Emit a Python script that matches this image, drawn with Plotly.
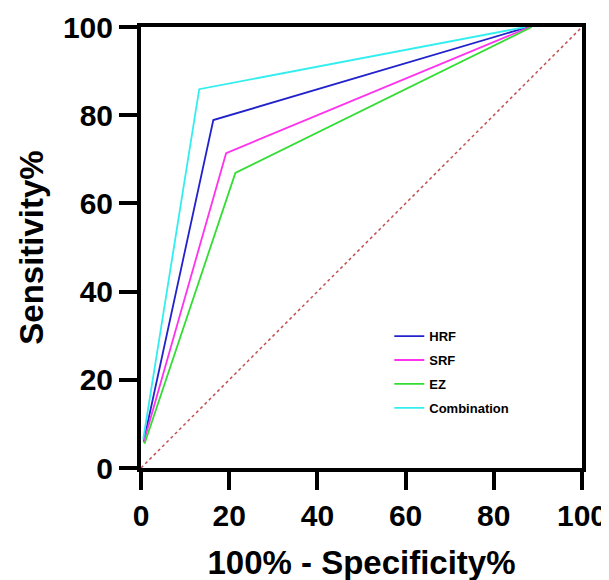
import plotly.graph_objects as go

# Data
series_names = ["HRF", "SRF", "EZ", "Combination"]
hrf_x = [0.6, 16.4, 87.8]
hrf_y = [6.0, 78.9, 100.0]
srf_x = [0.6, 19.3, 88.2]
srf_y = [5.8, 71.4, 100.0]
ez_x = [0.8, 21.4, 88.6]
ez_y = [5.5, 66.9, 100.0]
comb_x = [0.5, 13.2, 87.2]
comb_y = [6.5, 85.9, 100.0]
ref_x = [0, 100]
ref_y = [0, 100]
tick_vals = [0, 20, 40, 60, 80, 100]

colors = {"HRF": "#2222cc", "SRF": "#ff33ee", "EZ": "#33dd33", "Combination": "#33eeee"}

fig = go.Figure()
fig.add_trace(go.Scatter(x=ref_x, y=ref_y, mode="lines", showlegend=False,
                         line=dict(color="#c0504d", width=1.5, dash="dot")))
for name, xs, ys in [("HRF", hrf_x, hrf_y), ("SRF", srf_x, srf_y),
                     ("EZ", ez_x, ez_y), ("Combination", comb_x, comb_y)]:
    fig.add_trace(go.Scatter(x=xs, y=ys, mode="lines", name=name, legendgroup=name,
                             line=dict(color=colors[name], width=1.8)))

axis_common = dict(
    range=[0, 100], tickvals=tick_vals, showgrid=False, zeroline=False,
    showline=True, linecolor="black", linewidth=4, mirror=True,
    ticks="outside", ticklen=18, tickwidth=4, tickcolor="black", automargin=False,
    tickfont=dict(family="Arial, Liberation Sans", size=30, color="black", weight="bold"),
)

fig.update_layout(
    width=609, height=580,
    margin=dict(l=133, r=35, t=19, b=120),
    paper_bgcolor="white", plot_bgcolor="white",
    xaxis=dict(**axis_common,
               title=dict(text="100% - Specificity%", standoff=21,
                          font=dict(family="Arial, Liberation Sans", size=33, color="black", weight="bold"))),
    yaxis=dict(**axis_common,
               title=dict(text="Sensitivity%", standoff=10,
                          font=dict(family="Arial, Liberation Sans", size=33, color="black", weight="bold"))),
    legend=dict(x=0.563, y=0.333, xanchor="left", yanchor="top",
                bgcolor="rgba(0,0,0,0)", tracegroupgap=4,
                font=dict(family="Arial, Liberation Sans", size=13, color="black", weight="bold")),
    showlegend=True,
)

fig.write_html("out.html")
